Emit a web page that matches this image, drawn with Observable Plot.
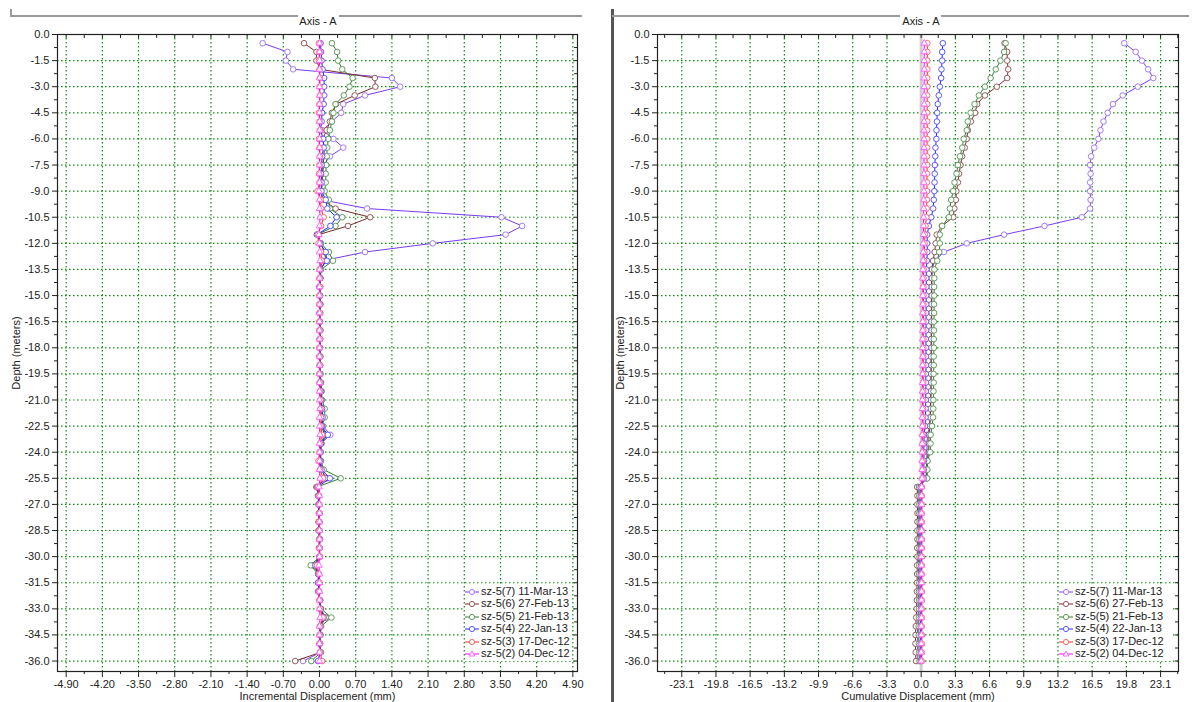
<!DOCTYPE html>
<html><head><meta charset="utf-8">
<script src="https://cdn.jsdelivr.net/npm/d3@7"></script>
<script src="https://cdn.jsdelivr.net/npm/@observablehq/plot@0.6"></script>
<style>
html,body{margin:0;padding:0;background:#fff;}
#wrap{position:relative;width:1199px;height:702px;overflow:hidden;font-family:"Liberation Sans",Arial,sans-serif;color:#222;}
.chart{position:absolute;top:0;}
.hl{position:absolute;height:0;border-top:2px solid #9a9a9a;}
.ttl{position:absolute;width:100px;text-align:center;font-size:11px;top:15px;}
.legend{position:absolute;background:#fff;font-size:11px;line-height:12.4px;}
.legend div{white-space:nowrap;height:12.4px;}
.legend svg{vertical-align:middle;margin-right:2px;}
</style></head><body><div id="wrap"></div>
<script>
// ---------- data ----------
const depths = [-0.5,-1.0,-1.5,-2.0,-2.5,-3.0,-3.5,-4.0,-4.5,-5.0,-5.5,-6.0,-6.5,-7.0,-7.5,-8.0,-8.5,-9.0,-9.5,-10.0,
-10.5,-11.0,-11.5,-12.0,-12.5,-13.0,-13.5,-14.0,-14.5,-15.0,-15.5,-16.0,-16.5,-17.0,-17.5,-18.0,-18.5,-19.0,-19.5,-20.0,
-20.5,-21.0,-21.5,-22.0,-22.5,-23.0,-23.5,-24.0,-24.5,-25.0,-25.5,-26.0,-26.5,-27.0,-27.5,-28.0,-28.5,-29.0,-29.5,-30.0,
-30.5,-31.0,-31.5,-32.0,-32.5,-33.0,-33.5,-34.0,-34.5,-35.0,-35.5,-36.0];

const seriesNames = ["sz-5(7) 11-Mar-13","sz-5(6) 27-Feb-13","sz-5(5) 21-Feb-13","sz-5(4) 22-Jan-13","sz-5(3) 17-Dec-12","sz-5(2) 04-Dec-12"];
const lineColors = ["#7b3cf0","#7a2a2a","#2f7d32","#2323ff","#ff2a2a","#ff00ff"];
const markerColors = ["#a27cf5","#9a5a5a","#5f9c5f","#5a5aff","#ff6a6a","#ff66ff"];
const markerSymbols = ["circle","circle","circle","circle","circle","triangle"];

// Incremental displacement (mm)
const inc7 = [-1.10,-0.62,-0.65,-0.51,1.40,1.56,0.88,0.46,0.42,0.24,0.06,0.27,0.46,0.20,0.08,0.05,0.04,0.03,0.05,0.92,
3.52,3.92,3.60,2.19,0.88,0.06,0.01,0.01,0.00,0.01,0.00,0.01,0.00,0.01,0.00,0.01,0.01,0.00,0.01,0.00,
0.02,0.03,0.05,0.04,0.07,0.21,0.03,0.02,0.01,0.03,0.14,-0.05,-0.02,-0.01,-0.01,0.00,-0.01,0.00,-0.01,0.01,
-0.10,-0.02,-0.01,-0.03,0.00,0.01,0.10,0.02,0.01,0.01,0.02,-0.32];
const inc6 = [-0.30,-0.06,-0.06,0.01,1.07,1.08,0.68,0.32,0.24,0.20,0.14,0.06,0.10,0.08,0.07,0.06,0.05,0.04,0.06,0.31,
0.98,0.55,-0.02,0.02,0.10,0.12,0.02,0.01,0.01,0.00,0.01,0.01,0.00,0.01,0.01,0.00,0.01,0.01,0.00,0.01,
0.02,0.02,0.06,0.05,0.04,0.10,0.03,0.01,0.02,0.04,0.12,-0.06,-0.02,-0.02,-0.01,-0.01,-0.02,0.00,-0.01,0.00,
-0.12,-0.02,-0.01,-0.02,0.01,0.02,0.12,0.02,0.01,0.01,0.02,-0.47];
const inc5 = [0.24,0.34,0.36,0.44,0.64,0.58,0.47,0.31,0.27,0.24,0.20,0.17,0.15,0.14,0.13,0.12,0.12,0.10,0.18,0.20,
0.44,0.31,-0.05,0.03,0.18,0.26,0.03,0.02,0.01,0.01,0.02,0.01,0.01,0.02,0.01,0.01,0.02,0.01,0.02,0.03,
0.04,0.05,0.10,0.10,0.05,0.12,0.04,0.02,0.03,0.08,0.41,-0.05,-0.03,-0.02,-0.01,-0.02,-0.01,-0.01,0.00,0.00,
-0.17,-0.03,-0.01,-0.02,0.01,0.03,0.23,0.03,0.02,0.01,0.03,-0.16];
const inc4 = [0.02,0.03,0.04,0.06,0.09,0.09,0.09,0.08,0.05,0.04,0.02,0.07,0.08,0.05,0.04,0.03,0.04,0.04,0.12,0.15,
0.33,0.21,-0.05,0.01,0.12,0.14,0.01,0.01,0.00,0.01,0.01,0.00,0.01,0.00,0.01,0.01,0.00,0.01,0.01,0.02,
0.03,0.03,0.05,0.06,0.04,0.16,0.03,0.02,0.01,0.04,0.20,-0.04,-0.02,-0.01,0.00,-0.01,0.00,0.01,0.00,0.00,
-0.08,-0.02,-0.03,-0.01,0.01,0.02,0.08,0.01,0.01,0.00,0.01,-0.03];
const inc3 = [-0.01,0.00,-0.01,0.00,0.01,0.00,0.01,0.00,-0.01,0.00,0.01,-0.01,0.00,0.01,0.00,-0.01,0.00,-0.04,0.02,0.03,
0.08,0.03,-0.03,-0.02,0.03,0.04,0.00,0.00,0.01,0.00,0.00,0.01,0.00,0.00,0.01,0.00,0.00,0.01,0.00,0.01,
0.01,0.02,0.02,0.03,0.02,0.05,0.01,0.00,-0.02,0.01,0.07,-0.03,-0.01,0.00,0.00,-0.01,0.00,0.00,0.00,0.01,
-0.05,-0.01,0.00,-0.01,0.00,0.01,0.06,0.01,0.00,0.00,0.01,0.05];
const inc2 = [0.00,0.00,0.00,0.00,0.00,0.00,0.00,0.00,0.00,0.00,0.00,0.00,0.00,0.00,0.00,0.00,0.00,-0.01,0.00,0.00,
0.01,0.00,-0.01,0.00,0.00,0.01,0.00,0.00,0.00,0.00,0.00,0.00,0.00,0.00,0.00,0.00,0.00,0.00,0.00,0.00,
0.00,0.00,0.01,0.00,0.00,0.01,0.00,0.00,0.00,0.00,0.01,-0.01,0.00,0.00,0.00,0.00,0.00,0.00,0.00,0.00,
-0.01,0.00,0.00,0.00,0.00,0.00,0.01,0.00,0.00,0.00,0.00,0.00];

// Cumulative displacement (mm)
const cum7 = [19.6,20.7,21.3,21.9,22.4,20.9,19.45,18.5,18.0,17.6,17.3,17.1,16.7,16.4,16.3,16.35,16.3,16.3,16.35,16.3,
15.5,11.9,8.0,4.4,2.2,1.3,1.06,1.05,1.03,1.04,1.02,1.01,1.02,1.00,0.99,1.00,0.98,0.97,0.98,0.96,
0.94,0.93,0.90,0.86,0.82,0.62,0.58,0.56,0.54,0.52,0.45,-0.30,-0.28,-0.27,-0.28,-0.27,-0.26,-0.27,-0.26,-0.27,
-0.25,-0.26,-0.27,-0.26,-0.28,-0.29,-0.30,-0.34,-0.35,-0.35,-0.34,-0.32];
const cum6 = [8.05,8.3,8.3,8.4,8.3,7.3,6.15,5.4,5.2,4.8,4.5,4.4,4.2,3.95,3.8,3.65,3.55,3.4,3.35,3.2,
3.1,2.0,1.5,1.4,1.3,1.15,1.02,1.01,0.99,1.00,0.98,0.99,0.97,0.98,0.96,0.97,0.95,0.96,0.94,0.95,
0.93,0.92,0.90,0.88,0.84,0.76,0.74,0.72,0.56,0.54,0.52,-0.38,-0.36,-0.37,-0.35,-0.36,-0.37,-0.36,-0.38,-0.37,
-0.39,-0.38,-0.40,-0.41,-0.42,-0.44,-0.48,-0.52,-0.54,-0.55,-0.53,-0.50];
const cum5 = [8.15,8.0,7.65,7.2,6.7,6.15,5.57,5.15,4.77,4.5,4.4,4.1,3.96,3.74,3.55,3.41,3.22,3.09,2.9,2.77,
2.67,2.03,1.8,1.8,1.75,1.55,1.28,1.27,1.25,1.26,1.24,1.25,1.23,1.24,1.22,1.23,1.21,1.22,1.20,1.21,
1.19,1.18,1.17,1.15,1.05,0.92,0.90,0.88,0.62,0.60,0.58,-0.20,-0.18,-0.17,-0.18,-0.16,-0.17,-0.18,-0.17,-0.16,
-0.18,-0.19,-0.18,-0.20,-0.19,-0.21,-0.22,-0.24,-0.23,-0.22,-0.20,-0.16];
const cum4 = [2.09,2.03,2.03,1.96,1.93,1.8,1.7,1.6,1.55,1.52,1.48,1.47,1.38,1.36,1.32,1.31,1.29,1.27,1.22,1.16,
0.97,0.74,0.58,0.58,0.60,0.55,0.50,0.49,0.50,0.48,0.49,0.48,0.47,0.48,0.46,0.47,0.46,0.47,0.45,0.46,
0.45,0.44,0.43,0.42,0.38,0.28,0.27,0.26,0.27,0.25,0.24,-0.04,-0.03,-0.02,-0.03,-0.02,-0.03,-0.02,-0.01,-0.02,
-0.01,-0.03,-0.02,-0.04,-0.03,-0.02,-0.04,-0.05,-0.04,-0.05,-0.04,-0.03];
const cum3 = [0.60,0.60,0.59,0.60,0.59,0.60,0.58,0.59,0.58,0.59,0.58,0.57,0.58,0.57,0.58,0.57,0.56,0.57,0.55,0.54,
0.50,0.42,0.36,0.33,0.31,0.28,0.24,0.23,0.22,0.23,0.22,0.21,0.22,0.21,0.22,0.21,0.20,0.21,0.20,0.21,
0.20,0.19,0.20,0.19,0.18,0.16,0.15,0.16,0.15,0.14,0.12,0.06,0.05,0.06,0.05,0.06,0.05,0.06,0.05,0.05,
0.06,0.05,0.05,0.06,0.05,0.05,0.06,0.05,0.05,0.06,0.05,0.05];
const cum2 = [0.30,0.30,0.29,0.30,0.29,0.29,0.28,0.29,0.28,0.28,0.27,0.28,0.27,0.27,0.26,0.27,0.26,0.26,0.25,0.25,
0.24,0.23,0.22,0.21,0.20,0.19,0.16,0.15,0.16,0.15,0.15,0.14,0.15,0.14,0.14,0.13,0.14,0.13,0.13,0.13,
0.12,0.12,0.12,0.11,0.11,0.10,0.10,0.10,0.09,0.09,0.09,0.05,0.04,0.05,0.04,0.04,0.05,0.04,0.04,0.03,
0.04,0.03,0.04,0.03,0.03,0.02,0.03,0.02,0.02,0.01,0.01,0.00];

// ticks
const yTicks = [0,-1.5,-3,-4.5,-6,-7.5,-9,-10.5,-12,-13.5,-15,-16.5,-18,-19.5,-21,-22.5,-24,-25.5,-27,-28.5,-30,-31.5,-33,-34.5,-36];
const yMinor = [-0.75,-2.25,-3.75,-5.25,-6.75,-8.25,-9.75,-11.25,-12.75,-14.25,-15.75,-17.25,-18.75,-20.25,-21.75,-23.25,-24.75,-26.25,-27.75,-29.25,-30.75,-32.25,-33.75,-35.25];
const xTicksInc = [-4.9,-4.2,-3.5,-2.8,-2.1,-1.4,-0.7,0,0.7,1.4,2.1,2.8,3.5,4.2,4.9];
const xMinorInc = [-4.55,-3.85,-3.15,-2.45,-1.75,-1.05,-0.35,0.35,1.05,1.75,2.45,3.15,3.85,4.55];
const xTicksCum = [-23.1,-19.8,-16.5,-13.2,-9.9,-6.6,-3.3,0,3.3,6.6,9.9,13.2,16.5,19.8,23.1];
const xMinorCum = [-24.75,-21.45,-18.15,-14.85,-11.55,-8.25,-4.95,-1.65,1.65,4.95,8.25,11.55,14.85,18.15,21.45,24.75];

const incSeries = [inc7,inc6,inc5,inc4,inc3,inc2];
const cumSeries = [cum7,cum6,cum5,cum4,cum3,cum2];

function table(seriesArrays){
  return seriesArrays.map((arr,s)=>arr.map((v,i)=>({series:seriesNames[s], depth:depths[i], value:v})));
}

const gridColor = "#0c8c0c";
function makeChart(o){
  const rows = table(o.series);
  const marks = [
    Plot.gridX(o.xTicks,{stroke:gridColor,strokeOpacity:1,strokeWidth:1.2,strokeDasharray:"1.5,2.5"}),
    Plot.gridY(yTicks,{stroke:gridColor,strokeOpacity:1,strokeWidth:1.2,strokeDasharray:"1.5,2.5"})
  ];
  if (o.zeroBand) marks.push(Plot.ruleX([0],{stroke:"#cfcfcf",strokeWidth:3}));
  rows.forEach((r,s)=>{
    marks.push(Plot.line(r,{x:"value",y:"depth",stroke:lineColors[s],strokeWidth:1}));
    marks.push(Plot.dot(r,{x:"value",y:"depth",r:markerSymbols[s]==="triangle"?2.4:2.8,symbol:markerSymbols[s],stroke:markerColors[s],fill:"white",strokeWidth:1}));
  });
  marks.push(
    Plot.frame({stroke:"#222",strokeWidth:1.2}),
    Plot.axisY({ticks:yTicks,tickSize:5,tickPadding:3,tickFormat:d=>d.toFixed(1),label:"Depth (meters)",labelAnchor:"center",labelArrow:"none",labelOffset:o.yLabelOffset,stroke:"#222",fill:"#222"}),
    Plot.axisY({ticks:yMinor,tickSize:3,fill:"none",label:null,stroke:"#222"}),
    Plot.axisY({anchor:"right",ticks:yTicks.concat(yMinor),tickSize:-4,fill:"none",label:null,stroke:"#222"}),
    Plot.axisX({ticks:o.xTicks,tickSize:6,tickPadding:3,tickFormat:o.fmt,label:o.xLabel,labelAnchor:"center",labelArrow:"none",labelOffset:28,stroke:"#222",fill:"#222"}),
    Plot.axisX({ticks:o.xMinor,tickSize:3,fill:"none",label:null,stroke:"#222"}),
    Plot.axisX({anchor:"top",ticks:o.xTicks.concat(o.xMinor),tickSize:-3,fill:"none",label:null,stroke:"#222"})
  );
  return Plot.plot({
    width:o.width, height:702,
    marginLeft:57, marginRight:o.marginRight, marginTop:34, marginBottom:31,
    x:{domain:o.xDomain},
    y:{domain:[-36.6,0]},
    style:{fontFamily:"Liberation Sans, Arial, sans-serif",fontSize:"11px",color:"#222",background:"transparent"},
    marks
  });
}

const wrap = document.getElementById("wrap");
function add(el, left){ el.classList.add("chart"); el.style.left = left+"px"; wrap.appendChild(el); }

add(makeChart({series:incSeries,width:600,marginRight:23,xDomain:[-5.068,4.99],xTicks:xTicksInc,xMinor:xMinorInc,fmt:d=>d.toFixed(2),xLabel:"Incremental Displacement (mm)",yLabelOffset:45}),0);
add(makeChart({series:cumSeries,width:599,marginRight:21,xDomain:[-25.44,24.83],xTicks:xTicksCum,xMinor:xMinorCum,fmt:d=>d.toFixed(1),xLabel:"Cumulative Displacement (mm)",zeroBand:true,yLabelOffset:41}),600);

// group box frames and titles
function div(cls, style, text){ const d=document.createElement("div"); if(cls) d.className=cls; d.setAttribute("style",style); if(text) d.textContent=text; wrap.appendChild(d); return d; }
div("", "position:absolute;left:10px;top:9px;width:0;height:8px;border-left:2px solid #9a9a9a;");
div("hl","left:10px;top:15px;width:288px;");
div("hl","left:339px;top:15px;width:243px;");
div("ttl","left:268px;","Axis - A");
div("", "position:absolute;left:611px;top:9px;width:0;height:700px;border-left:3px solid #555;");
div("hl","left:612px;top:15px;width:288px;");
div("hl","left:941px;top:15px;width:248px;");
div("ttl","left:871px;","Axis - A");

// legends
function legend(left, top, width){
  const lg = div("legend", `left:${left}px;top:${top}px;width:${width}px;height:76px;padding-top:1px;`);
  seriesNames.forEach((name,s)=>{
    const row = document.createElement("div");
    const sym = markerSymbols[s]==="triangle"
      ? `<path d="M7,2 L9.8,7 L4.2,7 Z" fill="white" stroke="${markerColors[s]}"/>`
      : `<circle cx="7" cy="5" r="2.6" fill="white" stroke="${markerColors[s]}"/>`;
    row.innerHTML = `<svg width="14" height="10"><line x1="0" y1="5" x2="14" y2="5" stroke="${lineColors[s]}"/>${sym}</svg><span>${name}</span>`;
    lg.appendChild(row);
  });
}
legend(465, 584, 106);
legend(1059, 584, 113);
</script></body></html>
